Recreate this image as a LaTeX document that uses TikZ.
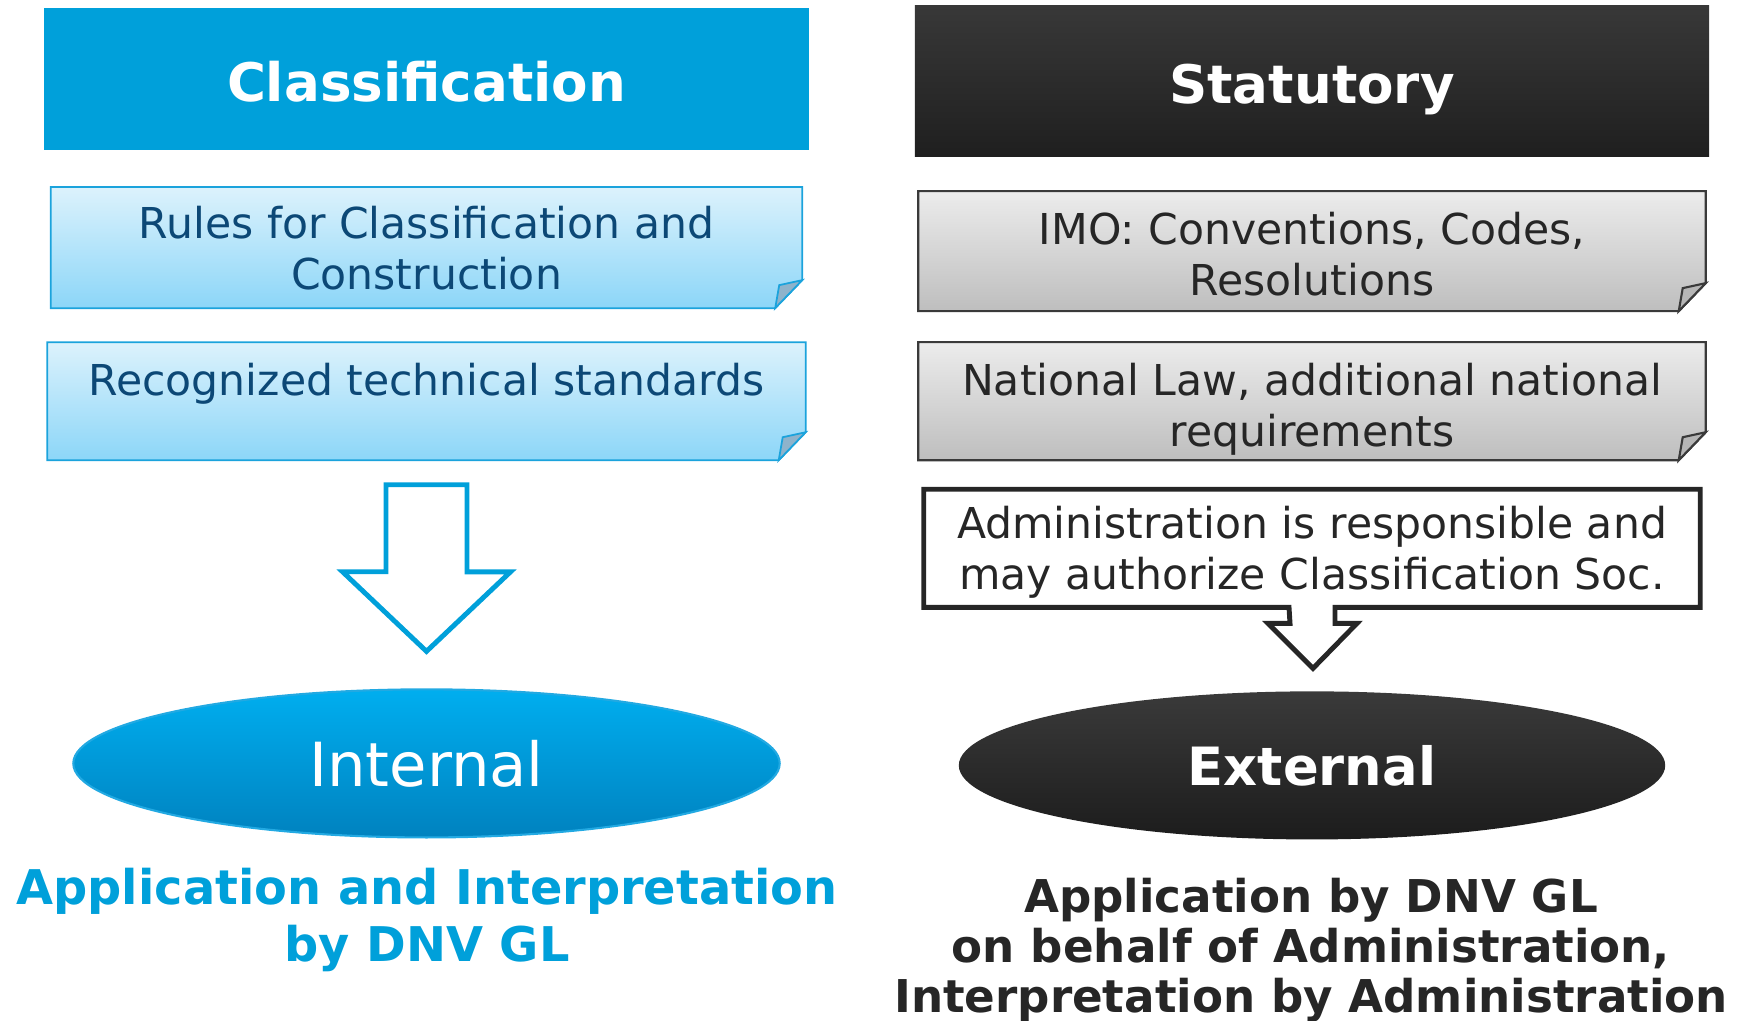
\documentclass[tikz,border=0pt]{standalone}
\usepackage{fontspec}
\setmainfont{DejaVu Sans}
\usetikzlibrary{positioning,shapes.geometric,backgrounds}
\definecolor{clsblue}{RGB}{0,160,218}
\definecolor{navy}{RGB}{12,72,118}
\definecolor{bluetop}{RGB}{220,242,252}
\definecolor{bluebot}{RGB}{140,214,248}
\definecolor{blueline}{RGB}{27,163,220}
\definecolor{bluefold}{RGB}{142,179,203}
\definecolor{graytop}{RGB}{236,236,236}
\definecolor{graybot}{RGB}{190,190,190}
\definecolor{grayline}{RGB}{58,58,58}
\definecolor{grayfold}{RGB}{182,182,182}
\definecolor{darktext}{RGB}{38,38,38}
\definecolor{stattop}{RGB}{56,56,56}
\definecolor{statbot}{RGB}{31,31,31}
\definecolor{inttop}{RGB}{0,174,239}
\definecolor{intbot}{RGB}{0,130,191}
\definecolor{intline}{RGB}{34,169,226}
\definecolor{exttop}{RGB}{58,58,58}
\definecolor{extbot}{RGB}{28,28,28}

\begin{document}
\begin{tikzpicture}[x=0.01cm,y=-0.01cm]
 	\tikzstyle{hdr}=[rectangle, inner sep=0, outer sep=0, text=white, text height=12.7pt, text depth=0pt, font=\fontsize{15.1}{17}\selectfont\bfseries]
 	\tikzstyle{note}=[rectangle, inner sep=0, outer sep=0, align=center, text depth=0pt, font=\fontsize{12.1}{14.5}\selectfont]
 	\tikzstyle{oval}=[ellipse, inner sep=0, outer sep=0, minimum width=7.06cm, minimum height=1.48cm, text=white]
 	\tikzstyle{connect}=[line width=1.4pt, fill=white]
 	\tikzstyle{sumtext}=[align=center, inner sep=0]
 	\tikzstyle{bp}=[draw=blueline, line width=0.5pt, top color=bluetop, bottom color=bluebot]
 	\tikzstyle{gp}=[draw=grayline, line width=0.6pt, top color=graytop, bottom color=graybot]
 	\tikzstyle{bpf}=[draw=blueline, line width=0.5pt, fill=bluefold]
 	\tikzstyle{gpf}=[draw=grayline, line width=0.6pt, fill=grayfold]
 	\useasboundingbox (0,0) rectangle (1742,1021);
 	\node[hdr, fill=clsblue, minimum width=7.65cm, minimum height=1.42cm] (cls) at (426.5,79) {Classification};
 	\node[hdr, top color=stattop, bottom color=statbot, minimum width=7.94cm, minimum height=1.5cm] (stat) at (1312,81) {Statutory};
 	\node[note, text=navy, minimum width=7.51cm, minimum height=1.21cm, below=0.37cm of cls] (rules) {Rules for Classification and\\Construction};
 	\node[note, text=navy, minimum width=7.58cm, text height=0.53cm, text depth=0.65cm, below=0.34cm of rules] (std) {Recognized technical standards};
 	\node[note, text=darktext, minimum width=7.87cm, minimum height=1.2cm, text height=25.5pt, below=0.35cm of stat] (imo) {IMO: Conventions, Codes,\\Resolutions};
 	\node[note, text=darktext, minimum width=7.87cm, minimum height=1.18cm, text height=25.5pt, below=0.31cm of imo] (law) {National Law, additional national\\requirements};
 	\node[note, text=darktext, minimum width=7.76cm, minimum height=1.18cm, below=0.29cm of law] (adm) {Administration is responsible and\\may authorize Classification Soc.};
 	\node[oval, top color=inttop, bottom color=intbot, draw=intline, line width=0.6pt, font=\fontsize{17.3}{20}\selectfont, below=2.29cm of std] (int) {Internal};
 	\node[oval, top color=exttop, bottom color=extbot, font=\fontsize{15}{18}\selectfont\bfseries, below=0.84cm of adm] (ext) {External};
 	\node[sumtext, text=clsblue, font=\fontsize{13.6}{16.2}\selectfont\bfseries] (intsum) at (427,920) {Application and Interpretation\\by DNV GL};
 	\node[sumtext, text=darktext, font=\fontsize{12.85}{14.2}\selectfont\bfseries] (extsum) at (1311,950.5) {Application by DNV GL\\on behalf of Administration,\\Interpretation by Administration};
 	\begin{scope}[on background layer]
 	\foreach \nm/\sty/\fld in {rules/bp/bpf, std/bp/bpf, imo/gp/gpf, law/gp/gpf} {
 		\draw[\sty] (\nm.north west) -- (\nm.north east) -- ([shift={(0,-28)}]\nm.south east) -- ([shift={(-27,0)}]\nm.south east) -- (\nm.south west) -- cycle;
 		\draw[\fld] ([shift={(-27,0)}]\nm.south east) -- ([shift={(-23,-23)}]\nm.south east) -- ([shift={(0,-28)}]\nm.south east) -- cycle;
 	}
 	\draw[connect, draw=darktext] (adm.north west) -- (adm.north east) -- (adm.south east) -- ([shift={(23,0)}]adm.south) -- ++(0,16) -- ++(22,0) -- ([shift={(1,-23)}]ext.north) -- ++(-45,-45) -- ++(22,0) -- ([shift={(-23,0)}]adm.south) -- (adm.south west) -- cycle;
 	\end{scope}
 	\draw[connect, draw=clsblue] ([shift={(-40.5,24.5)}]std.south) -- ++(0,87) -- ++(-43.5,0) -- ([shift={(0,-38)}]int.north) -- ++(84,-79.5) -- ++(-43.5,0) -- ([shift={(40.5,24.5)}]std.south) -- cycle;
\end{tikzpicture}
\end{document}
